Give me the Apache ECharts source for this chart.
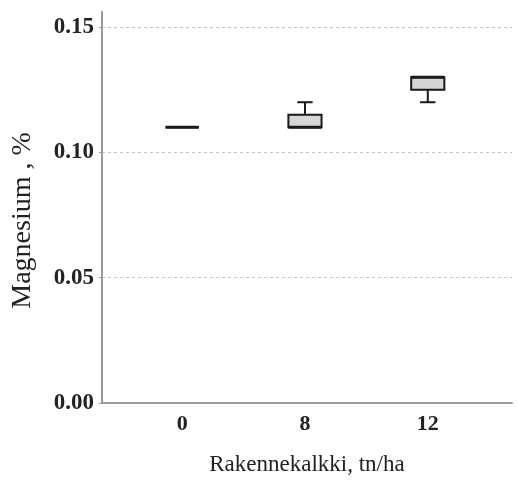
<!DOCTYPE html>
<html>
<head>
<meta charset="utf-8">
<script src="https://cdn.jsdelivr.net/npm/echarts@6/dist/echarts.min.js"></script>
<style>html,body{margin:0;padding:0;background:#fff;}#c{width:518px;height:483px;}</style>
</head>
<body>
<div id="c"></div>
<script>
const categories = ['0', '8', '12'];
const minVals    = [0.110, 0.110, 0.120];
const q1Vals     = [0.110, 0.110, 0.125];
const medianVals = [0.110, 0.110, 0.130];
const q3Vals     = [0.110, 0.115, 0.130];
const maxVals    = [0.110, 0.120, 0.130];
const yTicks = [0, 0.05, 0.10, 0.15];

const data = categories.map((c, i) => [i, minVals[i], q1Vals[i], medianVals[i], q3Vals[i], maxVals[i]]);

const chart = echarts.init(document.getElementById('c'));
const fontFam = '"Liberation Serif", "Times New Roman", serif';

function renderItem(params, api) {
  const x = api.value(0);
  const unit = api.size([1, 0])[0];
  const bw = unit * 0.27;
  const cw = unit * 0.125;
  const pMin = api.coord([x, api.value(1)]);
  const pQ1 = api.coord([x, api.value(2)]);
  const pMed = api.coord([x, api.value(3)]);
  const pQ3 = api.coord([x, api.value(4)]);
  const pMax = api.coord([x, api.value(5)]);
  const cx = pQ1[0];
  const stroke = '#1a1a1a';
  const children = [];
  if (pMax[1] < pQ3[1] - 0.5) {
    children.push({type: 'line', shape: {x1: cx, y1: pQ3[1], x2: cx, y2: pMax[1]}, style: {stroke, lineWidth: 2}});
    children.push({type: 'line', shape: {x1: cx - cw / 2, y1: pMax[1], x2: cx + cw / 2, y2: pMax[1]}, style: {stroke, lineWidth: 2}});
  }
  if (pMin[1] > pQ1[1] + 0.5) {
    children.push({type: 'line', shape: {x1: cx, y1: pQ1[1], x2: cx, y2: pMin[1]}, style: {stroke, lineWidth: 2}});
    children.push({type: 'line', shape: {x1: cx - cw / 2, y1: pMin[1], x2: cx + cw / 2, y2: pMin[1]}, style: {stroke, lineWidth: 2}});
  }
  children.push({type: 'rect', shape: {x: cx - bw / 2, y: pQ3[1], width: bw, height: pQ1[1] - pQ3[1]},
    style: {fill: '#d6d6d6', stroke, lineWidth: 2}});
  children.push({type: 'line', shape: {x1: cx - bw / 2, y1: pMed[1], x2: cx + bw / 2, y2: pMed[1]}, style: {stroke, lineWidth: 3}});
  return {type: 'group', children};
}

chart.setOption({
  animation: false,
  backgroundColor: '#fff',
  grid: {left: 102, top: 12, right: 6, bottom: 80},
  xAxis: {
    type: 'value',
    min: -0.653,
    max: 2.686,
    name: 'Rakennekalkki, tn/ha',
    nameLocation: 'middle',
    nameGap: 50,
    nameTextStyle: {fontFamily: fontFam, fontSize: 23, color: '#222'},
    axisLine: {show: true, onZero: false, lineStyle: {color: '#9a9a9a', width: 2}},
    axisTick: {show: false},
    splitLine: {show: false},
    axisLabel: {
      customValues: [0, 1, 2],
      formatter: v => categories[Math.round(v)],
      fontFamily: fontFam, fontWeight: 'bold', fontSize: 22, color: '#222', margin: 10
    }
  },
  yAxis: {
    type: 'value',
    min: 0,
    max: 0.156,
    interval: 0.05,
    name: 'Magnesium , %',
    nameLocation: 'middle',
    nameGap: 65,
    nameTextStyle: {fontFamily: fontFam, fontSize: 28, color: '#222', padding: [0, 26, 0, 0]},
    axisLine: {show: true, onZero: false, lineStyle: {color: '#9a9a9a', width: 2}},
    axisTick: {show: true, customValues: yTicks, length: 3, lineStyle: {color: '#9a9a9a'}},
    axisLabel: {
      customValues: yTicks,
      formatter: v => v.toFixed(2),
      fontFamily: fontFam, fontWeight: 'bold', fontSize: 23, color: '#222', margin: 8
    },
    splitLine: {show: true, showMinLine: false, showMaxLine: true, lineStyle: {color: '#c4c4c4', type: [3, 3], width: 1}}
  },
  series: [{
    type: 'custom',
    renderItem: renderItem,
    encode: {x: 0, y: [1, 2, 3, 4, 5]},
    data: data
  }]
});
</script>
</body>
</html>
